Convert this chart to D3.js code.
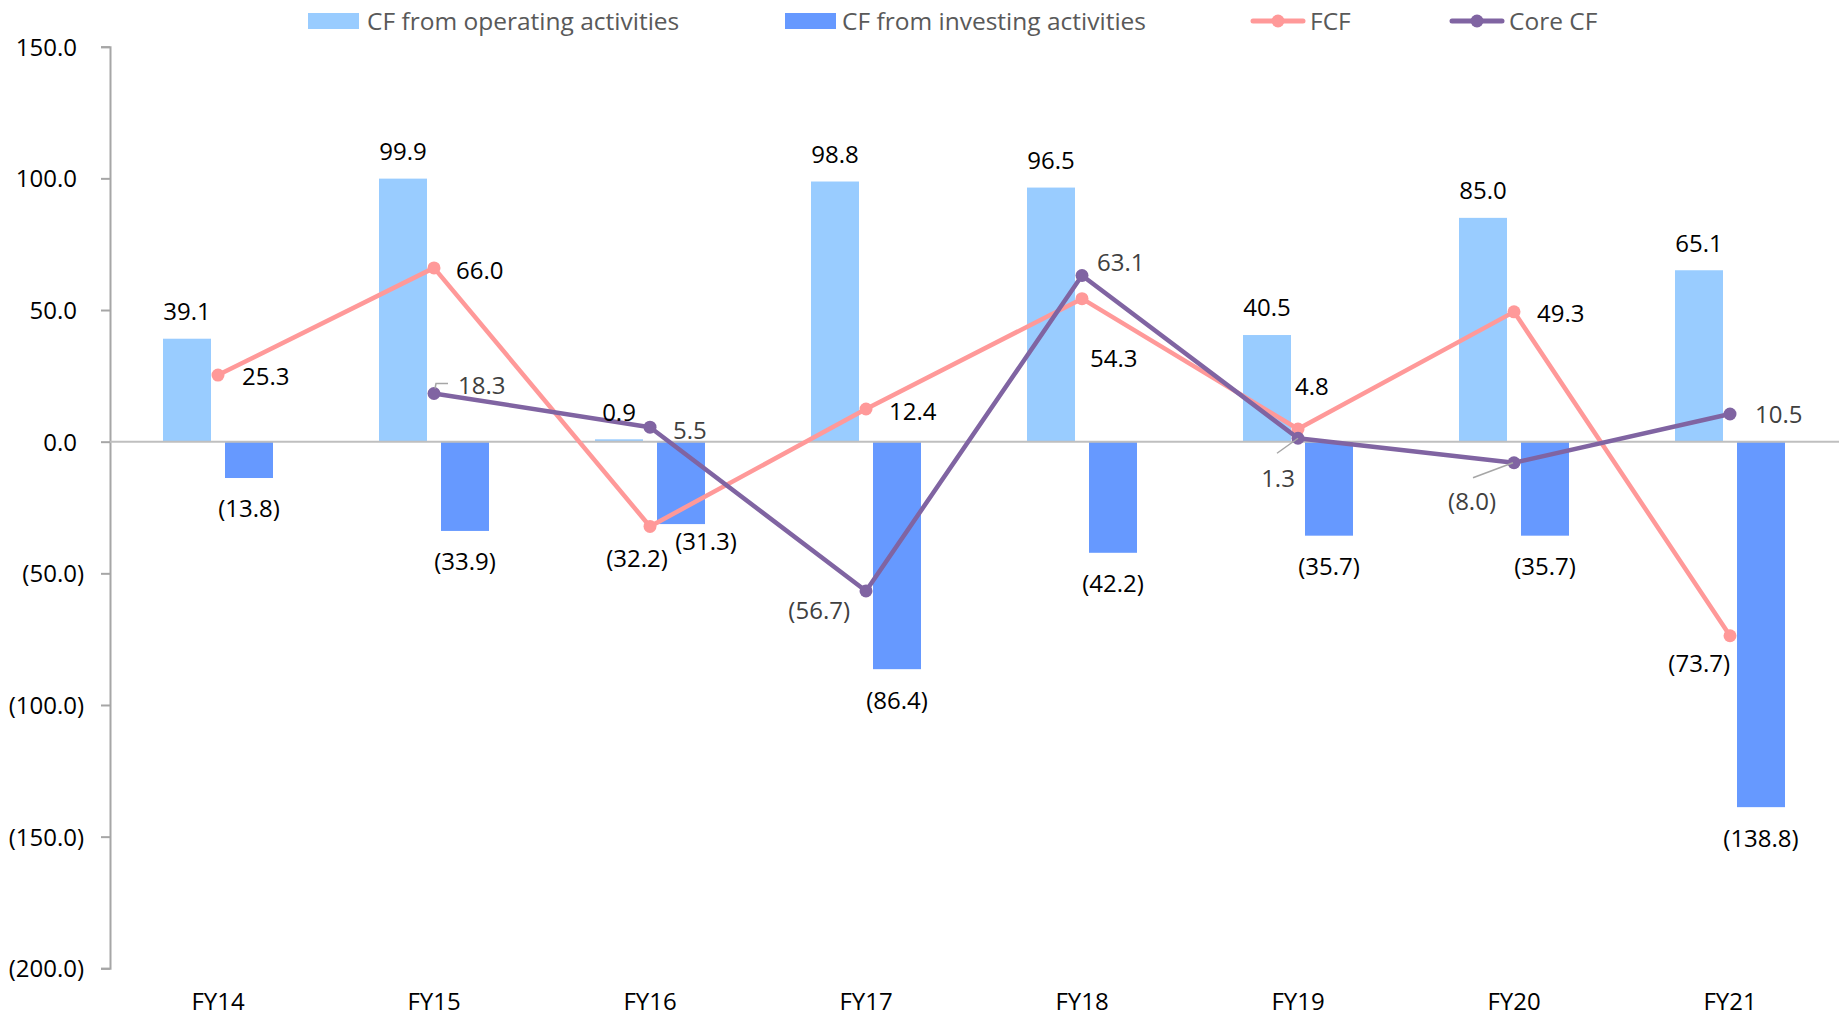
<!DOCTYPE html>
<html>
<head>
<meta charset="utf-8">
<script src="https://cdn.jsdelivr.net/npm/d3@7"></script>
<style>
    html, body { margin: 0; padding: 0; background: #fff; }
    svg text { font-family: "Open Sans", "Noto Sans", sans-serif; font-size: 24px; }
    .axis-label { fill: #000; }
    .bar-label, .fcf-label { fill: #000; }
    .core-label { fill: #404040; }
    svg text.legend-text { fill: #595959; font-size: 24.5px; }
</style>
</head>
<body>
<div id="chart"></div>
<script>
// Fiscal years on the x axis
const years = ['FY14', 'FY15', 'FY16', 'FY17', 'FY18', 'FY19', 'FY20', 'FY21'];

// Series values
const cfOperating = [39.1, 99.9, 0.9, 98.8, 96.5, 40.5, 85.0, 65.1];
const cfInvesting = [-13.8, -33.9, -31.3, -86.4, -42.2, -35.7, -35.7, -138.8];
const fcf = [25.3, 66.0, -32.2, 12.4, 54.3, 4.8, 49.3, -73.7];
const coreCf = [null, 18.3, 5.5, -56.7, 63.1, 1.3, -8.0, 10.5];

// Y axis ticks
const yTicks = [150, 100, 50, 0, -50, -100, -150, -200];

// Colours
const COLOR_OPERATING = '#99CCFF';
const COLOR_INVESTING = '#6699FF';
const COLOR_FCF = '#FF9999';
const COLOR_CORE = '#8064A2';

const width = 1839, height = 1017;

const svg = d3.select('#chart')
    .append('svg')
    .attr('width', width)
    .attr('height', height);

const x = d3.scaleBand()
    .domain(years)
    .range([110, 1838]);

const y = d3.scaleLinear()
    .domain([-200, 150])
    .range([968.3, 46.7]);

const barWidth = 48;
const barShift = 31;   // distance of each bar centre from the category centre

function fmt(v) {
    return v < 0 ? `(${Math.abs(v).toFixed(1)})` : v.toFixed(1);
}

function cx(i) {
    return x(years[i]) + x.bandwidth() / 2;
}

// --- bars ---
const barData = years.map((yr, i) => ({ i, op: cfOperating[i], inv: cfInvesting[i] }));

svg.append('g').selectAll('rect')
    .data(barData)
    .enter()
    .append('rect')
    .attr('x', d => cx(d.i) - barShift - barWidth / 2)
    .attr('width', barWidth)
    .attr('y', d => y(Math.max(0, d.op)))
    .attr('height', d => Math.abs(y(d.op) - y(0)))
    .attr('fill', COLOR_OPERATING);

svg.append('g').selectAll('rect')
    .data(barData)
    .enter()
    .append('rect')
    .attr('x', d => cx(d.i) + barShift - barWidth / 2)
    .attr('width', barWidth)
    .attr('y', d => y(Math.max(0, d.inv)))
    .attr('height', d => Math.abs(y(d.inv) - y(0)))
    .attr('fill', COLOR_INVESTING);

// --- axes ---
const yAxis = svg.append('g')
    .attr('transform', 'translate(110,0)')
    .call(d3.axisLeft(y).tickValues(yTicks).tickSize(9).tickPadding(17).tickFormat(fmt));

yAxis.select('.domain').attr('stroke', '#A6A6A6').attr('stroke-width', 2);
yAxis.selectAll('.tick line').attr('stroke', '#A6A6A6').attr('stroke-width', 2);
yAxis.selectAll('.tick text')
    .attr('class', 'axis-label')
    .attr('font-size', null)
    .attr('font-family', null)
    .attr('dx', d => d < 0 ? 0 : -7)
    .attr('dy', '0.35em');

// zero line
svg.append('line')
    .attr('x1', 110)
    .attr('x2', width)
    .attr('y1', y(0))
    .attr('y2', y(0))
    .attr('stroke', '#BFBFBF')
    .attr('stroke-width', 2);

// category labels
svg.append('g').selectAll('text')
    .data(years)
    .enter()
    .append('text')
    .attr('class', 'axis-label')
    .attr('x', (d, i) => cx(i))
    .attr('y', 1010)
    .attr('text-anchor', 'middle')
    .text(d => d);

// --- lines ---
function drawLine(values, color) {
    const pts = values.map((v, i) => ({ i, v })).filter(d => d.v !== null);
    const line = d3.line()
        .x(d => cx(d.i))
        .y(d => y(d.v));

    svg.append('path')
        .datum(pts)
        .attr('d', line)
        .attr('fill', 'none')
        .attr('stroke', color)
        .attr('stroke-width', 4.5)
        .attr('stroke-linejoin', 'round');

    svg.append('g').selectAll('circle')
        .data(pts)
        .enter()
        .append('circle')
        .attr('cx', d => cx(d.i))
        .attr('cy', d => y(d.v))
        .attr('r', 6.5)
        .attr('fill', color);
}

drawLine(fcf, COLOR_FCF);
drawLine(coreCf, COLOR_CORE);

// --- data labels ---
svg.append('g').selectAll('text')
    .data(barData)
    .enter()
    .append('text')
    .attr('class', 'bar-label')
    .attr('x', d => cx(d.i) - barShift)
    .attr('y', d => y(d.op) - 27)
    .attr('dy', '0.35em')
    .attr('text-anchor', 'middle')
    .text(d => fmt(d.op));

// (31.3) was pushed aside to clear the FCF label
const invNudge = { 2: [25, -13] };

svg.append('g').selectAll('text')
    .data(barData)
    .enter()
    .append('text')
    .attr('class', 'bar-label')
    .attr('x', d => cx(d.i) + barShift + (invNudge[d.i] ? invNudge[d.i][0] : 0))
    .attr('y', d => y(d.inv) + 31 + (invNudge[d.i] ? invNudge[d.i][1] : 0))
    .attr('dy', '0.35em')
    .attr('text-anchor', 'middle')
    .text(d => fmt(d.inv));

// label placement relative to the marker: [dx, dy, anchor]
const fcfPlace = [
    [24, 2, 'start'], [22, 3, 'start'], [-13, 32, 'middle'], [23, 3, 'start'],
    [8, 60, 'start'], [-3, -42, 'start'], [23, 2, 'start'], [0, 28, 'end']
];
const corePlace = [
    null, [24, -8, 'start'], [23, 3, 'start'], [-16, 20, 'end'],
    [15, -13, 'start'], [-20, 40, 'middle'], [-42, 39, 'middle'], [25, 1, 'start']
];
// leader lines, offsets from the marker
const coreLeaders = {
    1: [[1, -5], [2, -10], [14, -10]],
    5: [[0, 0], [-21, 15]],
    6: [[-1, 0], [-41, 15]]
};

function drawLabels(values, place, cls) {
    const pts = values.map((v, i) => ({ i, v })).filter(d => d.v !== null);
    svg.append('g').selectAll('text')
        .data(pts)
        .enter()
        .append('text')
        .attr('class', cls)
        .attr('x', d => cx(d.i) + place[d.i][0])
        .attr('y', d => y(d.v) + place[d.i][1])
        .attr('dy', '0.35em')
        .attr('text-anchor', d => place[d.i][2])
        .text(d => fmt(d.v));
}

drawLabels(fcf, fcfPlace, 'fcf-label');
drawLabels(coreCf, corePlace, 'core-label');

Object.keys(coreLeaders).forEach(k => {
    const i = +k;
    const px = cx(i), py = y(coreCf[i]);
    svg.append('path')
        .attr('d', d3.line()(coreLeaders[k].map(p => [px + p[0], py + p[1]])))
        .attr('fill', 'none')
        .attr('stroke', '#A6A6A6')
        .attr('stroke-width', 1.5);
});

// --- legend ---
const legend = svg.append('g');
const legendY = 21;

legend.append('rect').attr('x', 308).attr('y', legendY - 8).attr('width', 51).attr('height', 16).attr('fill', COLOR_OPERATING);
legend.append('text').attr('class', 'legend-text').attr('x', 367).attr('y', legendY).attr('dy', '0.35em').text('CF from operating activities');

legend.append('rect').attr('x', 785).attr('y', legendY - 8).attr('width', 51).attr('height', 16).attr('fill', COLOR_INVESTING);
legend.append('text').attr('class', 'legend-text').attr('x', 842).attr('y', legendY).attr('dy', '0.35em').text('CF from investing activities');

[[1253, COLOR_FCF, 'FCF'], [1452, COLOR_CORE, 'Core CF']].forEach(([lx, color, name]) => {
    legend.append('line')
        .attr('x1', lx).attr('x2', lx + 50)
        .attr('y1', legendY).attr('y2', legendY)
        .attr('stroke', color).attr('stroke-width', 5)
        .attr('stroke-linecap', 'round');
    legend.append('circle').attr('cx', lx + 25).attr('cy', legendY).attr('r', 6.5).attr('fill', color);
    legend.append('text').attr('class', 'legend-text').attr('x', lx + 57).attr('y', legendY).attr('dy', '0.35em').text(name);
});
</script>
</body>
</html>
